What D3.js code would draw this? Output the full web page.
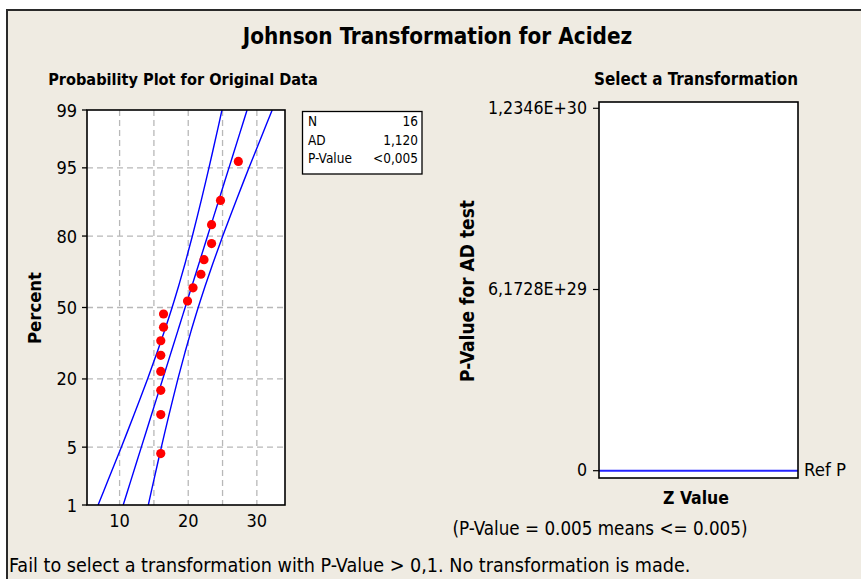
<!DOCTYPE html>
<html><head><meta charset="utf-8">
<script src="https://cdn.jsdelivr.net/npm/d3@7"></script>
<style>
html,body{margin:0;padding:0;background:#fff;}
svg{display:block;}
text{font-family:"DejaVu Sans Condensed","DejaVu Sans",Verdana,sans-serif;font-stretch:condensed;fill:#000;}
</style></head>
<body><svg id="c" width="861" height="579"></svg>
<script>
// ---- data ----
const values = [16.0,16.0,16.0,16.0,16.0,16.0,16.4,16.4,19.9,20.7,21.85,22.3,23.4,23.4,24.7,27.3];
const percents = [4.27,10.37,16.46,22.56,28.66,34.76,40.85,46.95,53.05,59.15,65.24,71.34,77.44,83.54,89.63,95.73];
const bandPct = [1,2,5,10,20,30,40,50,60,70,80,90,95,98,99];
const fitX   = [10.525,11.58,13.167,14.577,16.285,17.515,18.567,19.55,20.533,21.585,22.815,24.523,25.933,27.52,28.575];
const lowerX = [6.865,8.227,10.251,12.011,14.073,15.487,16.636,17.649,18.602,19.557,20.603,21.957,23.017,24.167,24.915];
const upperX = [14.185,14.933,16.083,17.143,18.498,19.543,20.498,21.451,22.464,23.613,25.028,27.089,28.849,30.873,32.235];
const yTicksPct = [1,5,20,50,80,95,99];
const xTicks = [10,20,30];
const xGrid = [10,15,20,25,30];
const stats = [["N","16"],["AD","1,120"],["P-Value","<0,005"]];
const rightYTicks = [0, 6.1728e29, 1.2346e30];
const rightYLabels = ["0","6,1728E+29","1,2346E+30"];
const refP = 0;

// inverse normal CDF (Acklam) for probability scale
function invNorm(p){
  const a=[-39.6968302866538,220.946098424521,-275.928510446969,138.357751867269,-30.6647980661472,2.50662827745924];
  const b=[-54.4760987982241,161.585836858041,-155.698979859887,66.8013118877197,-13.2806815528857];
  const c=[-0.00778489400243029,-0.322396458041136,-2.40075827716184,-2.54973253934373,4.37466414146497,2.93816398269878];
  const d=[0.00778469570904146,0.32246712907004,2.445134137143,3.75440866190742];
  const pl=0.02425;let q,r;
  if(p<pl){q=Math.sqrt(-2*Math.log(p));return (((((c[0]*q+c[1])*q+c[2])*q+c[3])*q+c[4])*q+c[5])/((((d[0]*q+d[1])*q+d[2])*q+d[3])*q+1);}
  if(p>1-pl){q=Math.sqrt(-2*Math.log(1-p));return -(((((c[0]*q+c[1])*q+c[2])*q+c[3])*q+c[4])*q+c[5])/((((d[0]*q+d[1])*q+d[2])*q+d[3])*q+1);}
  q=p-0.5;r=q*q;return (((((a[0]*r+a[1])*r+a[2])*r+a[3])*r+a[4])*r+a[5])*q/(((((b[0]*r+b[1])*r+b[2])*r+b[3])*r+b[4])*r+1);
}

const svg = d3.select("#c");
function fitW(sel, w){
  const n = sel.node(); let fs = parseFloat(sel.attr("font-size"));
  for(let k=0;k<3;k++){ const L=n.getComputedTextLength(); if(L>0){fs=fs*w/L; sel.attr("font-size",fs);} }
  return sel;
}

// background panel
svg.append("rect").attr("x",7).attr("y",10).attr("width",900).attr("height",600)
  .attr("fill","#efebe2").attr("stroke","#2a2a2a").attr("stroke-width",2);

// title
fitW(svg.append("text").attr("x",437.5).attr("y",44).attr("text-anchor","middle")
  .attr("font-size",21).attr("font-weight","bold").text("Johnson Transformation for Acidez"),389);

// ---- left: probability plot ----
const L = {x0:87,x1:285,y0:110,y1:505};
const x = d3.scaleLinear().domain([5.25,34.1]).range([L.x0,L.x1]);
const zy = d3.scaleLinear().domain([invNorm(0.01),invNorm(0.99)]).range([L.y1,L.y0]);
const y = p => zy(invNorm(p/100));

fitW(svg.append("text").attr("x",183).attr("y",85).attr("text-anchor","middle")
  .attr("font-size",14).attr("font-weight","bold").text("Probability Plot for Original Data"),270);

svg.append("rect").attr("x",L.x0).attr("y",L.y0).attr("width",L.x1-L.x0).attr("height",L.y1-L.y0).attr("fill","#fff");

const defs = svg.append("defs");
defs.append("clipPath").attr("id","clipL").append("rect").attr("x",L.x0).attr("y",L.y0).attr("width",L.x1-L.x0).attr("height",L.y1-L.y0);

const grid = svg.append("g");
grid.selectAll(".gx").data(xGrid).join("line").attr("x1",d=>x(d)).attr("x2",d=>x(d)).attr("y1",L.y0).attr("y2",L.y1)
  .attr("stroke","#b8b8b8").attr("stroke-width",1.3).attr("stroke-dasharray","6,4");
grid.selectAll(".gy").data(yTicksPct.slice(1,-1)).join("line").attr("x1",L.x0).attr("x2",L.x1).attr("y1",d=>y(d)).attr("y2",d=>y(d))
  .attr("stroke","#b8b8b8").attr("stroke-width",1.3).attr("stroke-dasharray","6,4");

const lineGen = arr => d3.line().x((d,i)=>x(arr[i])).y(d=>y(d)).curve(d3.curveCatmullRom)(bandPct);
const lines = svg.append("g").attr("clip-path","url(#clipL)");
[fitX,lowerX,upperX].forEach(arr=>{
  lines.append("path").attr("d",lineGen(arr)).attr("fill","none").attr("stroke","#0000ff").attr("stroke-width",1.4);
});

svg.append("g").selectAll("circle").data(values).join("circle")
  .attr("cx",d=>x(d)).attr("cy",(d,i)=>y(percents[i])).attr("r",4.6).attr("fill","#ff0000");

svg.append("rect").attr("x",L.x0).attr("y",L.y0).attr("width",L.x1-L.x0).attr("height",L.y1-L.y0)
  .attr("fill","none").attr("stroke","#000").attr("stroke-width",1.6);

// y axis ticks
const ya = svg.append("g");
ya.selectAll("line").data(yTicksPct).join("line").attr("x1",L.x0-5).attr("x2",L.x0).attr("y1",d=>y(d)).attr("y2",d=>y(d))
  .attr("stroke","#000").attr("stroke-width",1.3);
ya.selectAll("text").data(yTicksPct).join("text").attr("x",L.x0-10).attr("y",d=>y(d)+6.5).attr("text-anchor","end")
  .attr("font-size",18).text(d=>d);
// x axis labels
svg.append("g").selectAll("text").data(xTicks).join("text").attr("x",d=>x(d)).attr("y",527).attr("text-anchor","middle")
  .attr("font-size",18).text(d=>d);

fitW(svg.append("text").attr("transform","translate(41,308) rotate(-90)").attr("text-anchor","middle")
  .attr("font-size",15).attr("font-weight","bold").text("Percent"),72);

// stats box
svg.append("rect").attr("x",302.5).attr("y",111.5).attr("width",119.5).attr("height",62.5).attr("fill","#fff")
  .attr("stroke","#000").attr("stroke-width",1.3);
const sb = svg.append("g");
stats.forEach((s,i)=>{
  sb.append("text").attr("x",308).attr("y",126+i*18.5).attr("font-size",13.5).text(s[0]);
  sb.append("text").attr("x",418).attr("y",126+i*18.5).attr("font-size",13.5).attr("text-anchor","end").text(s[1]);
});

// ---- right: select a transformation ----
const R = {x0:599,x1:798,y0:102,y1:478};
const ry = d3.scaleLinear().domain([0,1.2346e30]).range([470.7,108.3]);
fitW(svg.append("text").attr("x",696).attr("y",85).attr("text-anchor","middle")
  .attr("font-size",14).attr("font-weight","bold").text("Select a Transformation"),204);
svg.append("rect").attr("x",R.x0).attr("y",R.y0).attr("width",R.x1-R.x0).attr("height",R.y1-R.y0).attr("fill","#fff");
svg.append("line").attr("x1",R.x0).attr("x2",R.x1).attr("y1",ry(refP)).attr("y2",ry(refP))
  .attr("stroke","#2424ff").attr("stroke-width",2);
svg.append("rect").attr("x",R.x0).attr("y",R.y0).attr("width",R.x1-R.x0).attr("height",R.y1-R.y0)
  .attr("fill","none").attr("stroke","#000").attr("stroke-width",1.6);
const rya = svg.append("g");
rya.selectAll("line").data(rightYTicks).join("line").attr("x1",R.x0-6).attr("x2",R.x0).attr("y1",d=>ry(d)).attr("y2",d=>ry(d))
  .attr("stroke","#000").attr("stroke-width",1.2);
const rlab = rya.selectAll("text").data(rightYTicks).join("text").attr("x",R.x0-12).attr("y",d=>ry(d)+5.5).attr("text-anchor","end")
  .attr("font-size",16).text((d,i)=>rightYLabels[i]);
fitW(d3.select(rlab.nodes()[2]),99);
d3.select(rlab.nodes()[1]).attr("font-size",d3.select(rlab.nodes()[2]).attr("font-size"));
d3.select(rlab.nodes()[0]).attr("font-size",d3.select(rlab.nodes()[2]).attr("font-size"));
fitW(svg.append("text").attr("x",804).attr("y",476).attr("font-size",16).text("Ref P"),42);
fitW(svg.append("text").attr("x",696).attr("y",504).attr("text-anchor","middle")
  .attr("font-size",15).attr("font-weight","bold").text("Z Value"),66);
fitW(svg.append("text").attr("transform","translate(474,291) rotate(-90)").attr("text-anchor","middle")
  .attr("font-size",15).attr("font-weight","bold").text("P-Value for AD test"),182);
fitW(svg.append("text").attr("x",600).attr("y",535).attr("text-anchor","middle")
  .attr("font-size",16).text("(P-Value = 0.005 means <= 0.005)"),295);
fitW(svg.append("text").attr("x",9).attr("y",572).attr("font-size",16)
  .text("Fail to select a transformation with P-Value > 0,1. No transformation is made."),682);
</script></body></html>
